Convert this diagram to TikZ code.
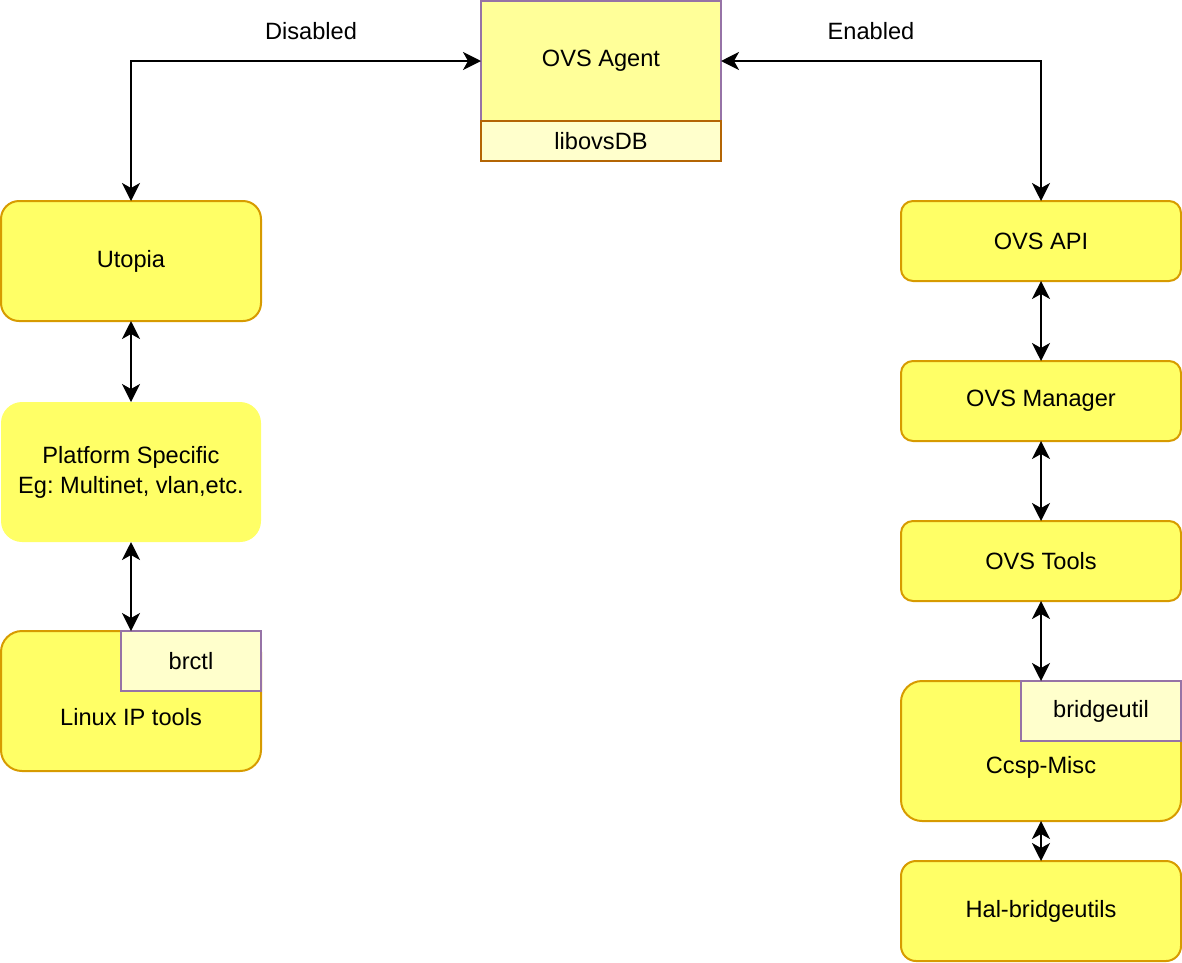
\documentclass[tikz,border=0pt]{standalone}
\usepackage{fontspec}
\setmainfont{Liberation Sans}
\usetikzlibrary{arrows.meta}
\definecolor{yfill}{HTML}{FFFF66}
\definecolor{agentfill}{HTML}{FFFF99}
\definecolor{libfill}{HTML}{FFFFCC}
\definecolor{ostroke}{HTML}{D79B00}
\definecolor{pstroke}{HTML}{9673A6}
\definecolor{bstroke}{HTML}{B46504}
\frenchspacing
\begin{document}
\begin{tikzpicture}[x=1pt,y=-1pt,
  every node/.style={font=\fontsize{23.6}{30}\selectfont\frenchspacing, inner sep=0pt, outer sep=0pt, align=center},
  rbox/.style={draw=ostroke, fill=yfill, line width=2pt},
  subbox/.style={draw=pstroke, fill=libfill, line width=2pt},
  dbl/.style={{Stealth[length=18pt,width=18pt,inset=5pt]}-{Stealth[length=18pt,width=18pt,inset=5pt]}, line width=2pt}
]
\useasboundingbox (0,0) rectangle (1182,962);

% left column
\node[rbox, minimum width=260pt, minimum height=120pt, rounded corners=18pt] (utopia) at (131,261) {Utopia};
\node[fill=yfill, minimum width=260pt, minimum height=140pt, rounded corners=21pt] (platform) at (131,472) {Platform Specific\\Eg: Multinet, vlan,etc.};
\node[rbox, minimum width=260pt, minimum height=140pt, rounded corners=21pt] (linux) at (131,701) {};
\node (linuxtxt) at (131,717) {Linux IP tools};
\node[subbox, minimum width=140pt, minimum height=60pt] (brctl) at (191,661) {brctl};

% top
\node[draw=pstroke, fill=agentfill, line width=2pt, minimum width=240pt, minimum height=120pt] (agent) at (601,61) {OVS Agent};
\node[draw=bstroke, fill=libfill, line width=2pt, minimum width=240pt, minimum height=40pt] (libovs) at (601,141) {libovsDB};

% right column
\node[rbox, minimum width=280pt, minimum height=80pt, rounded corners=12pt] (api) at (1041,241) {OVS API};
\node[rbox, minimum width=280pt, minimum height=80pt, rounded corners=12pt] (mgr) at (1041,401) {OVS Manager};
\node[rbox, minimum width=280pt, minimum height=80pt, rounded corners=12pt] (tools) at (1041,561) {OVS Tools};
\node[rbox, minimum width=280pt, minimum height=140pt, rounded corners=21pt] (ccsp) at (1041,751) {};
\node (ccsptxt) at (1041,767) {Ccsp-Misc};
\node[subbox, minimum width=160pt, minimum height=60pt] (bridge) at (1101,711) {bridgeutil};
\node[rbox, minimum width=280pt, minimum height=100pt, rounded corners=15pt] (hal) at (1041,911) {Hal-bridgeutils};

% labels
\node (dis) at (311,31) {Disabled};
\node (en) at (871,31) {Enabled};

% connectors
\draw[dbl] (utopia.north) |- (agent.west);
\draw[dbl] (agent.east) -| (api.north);
\draw[dbl] (utopia.south) -- (platform.north);
\draw[dbl] (platform.south) -- (linux.north);
\draw[dbl] (api.south) -- (mgr.north);
\draw[dbl] (mgr.south) -- (tools.north);
\draw[dbl] (tools.south) -- (ccsp.north);
\draw[dbl] (ccsp.south) -- (hal.north);
\end{tikzpicture}
\end{document}
